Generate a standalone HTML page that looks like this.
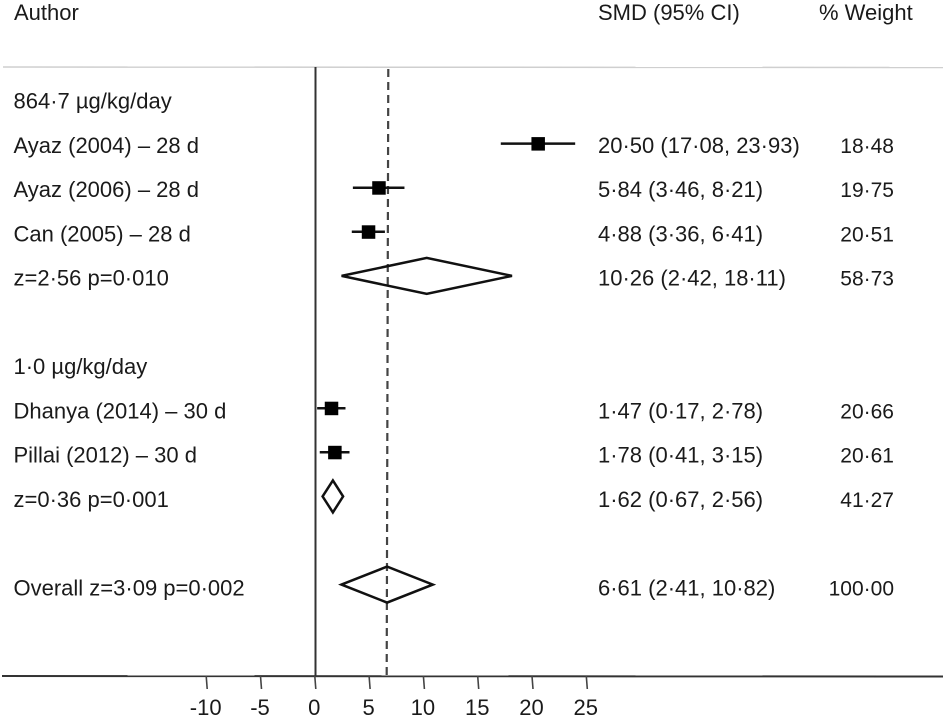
<!DOCTYPE html>
<html>
<head>
<meta charset="utf-8">
<style>
html,body{margin:0;padding:0;background:#fff;width:943px;height:722px;overflow:hidden}
svg{display:block}
text{font-family:"Liberation Sans",sans-serif;font-size:22px;fill:#1a1a1a}
text.weight{font-size:21px}
</style>
</head>
<body>
<svg id="chart" width="943" height="722" viewBox="0 0 943 722" xmlns="http://www.w3.org/2000/svg">
  <text x="14" y="20">Author</text>
  <text x="598" y="20">SMD (95% CI)</text>
  <text x="819" y="20">% Weight</text>
  <line x1="3" y1="67" x2="943" y2="67.5" stroke="#cfcfcf" stroke-width="1.5"/>
  <line x1="315.5" y1="67" x2="315.5" y2="676" stroke="#333" stroke-width="2"/>
  <line x1="2" y1="676" x2="943" y2="676.5" stroke="#333" stroke-width="2"/>
  <g id="marks"></g>
  <g id="labels"></g>
  <g id="axis"></g>
</svg>
<script>
var rowLabels = ["864·7 µg/kg/day","Ayaz (2004) – 28 d","Ayaz (2006) – 28 d","Can (2005) – 28 d","z=2·56 p=0·010","","1·0 µg/kg/day","Dhanya (2014) – 30 d","Pillai (2012) – 30 d","z=0·36 p=0·001","","Overall z=3·09 p=0·002"];
var rowKinds = ["group","study","study","study","pooled","blank","group","study","study","pooled","blank","pooled"];
var esValues = [null,20.50,5.84,4.88,10.26,null,null,1.47,1.78,1.62,null,6.61];
var loValues = [null,17.08,3.46,3.36,2.42,null,null,0.17,0.41,0.67,null,2.41];
var hiValues = [null,23.93,8.21,6.41,18.11,null,null,2.78,3.15,2.56,null,10.82];
var ciLabels = ["","20·50 (17·08, 23·93)","5·84 (3·46, 8·21)","4·88 (3·36, 6·41)","10·26 (2·42, 18·11)","","","1·47 (0·17, 2·78)","1·78 (0·41, 3·15)","1·62 (0·67, 2·56)","","6·61 (2·41, 10·82)"];
var weightLabels = ["","18·48","19·75","20·51","58·73","","","20·66","20·61","41·27","","100·00"];
var overallEffect = 6.61;
var tickValues = [-10,-5,0,5,10,15,20,25];
var tickLabels = ["-10","-5","0","5","10","15","20","25"];

var NS = "http://www.w3.org/2000/svg";
function xScale(v){ return 315.3 + v * 10.86; }
function rowText(i){ return 108.5 + i * 44.27; }
function rowMark(i){ return 99.5 + i * 44.1; }
function make(tag, parent, attrs){
  var el = document.createElementNS(NS, tag);
  for (var k in attrs) el.setAttribute(k, attrs[k]);
  parent.appendChild(el);
  return el;
}
var marks = document.getElementById("marks");
var labels = document.getElementById("labels");
var axis = document.getElementById("axis");

var dash = make("line", marks, {x1: xScale(overallEffect) + 1.2, y1: 69, x2: xScale(overallEffect) - 0.4, y2: 676, stroke: "#444", "stroke-width": 2.2, "stroke-dasharray": "8 5"});



rowLabels.forEach(function(label, i){
  if (rowKinds[i] === "blank") return;
  var t = make("text", labels, {x: 13.5, y: rowText(i)});
  t.textContent = label;
  
  
  if (ciLabels[i]) {
    var c = make("text", labels, {x: 598, y: rowText(i)});
    c.textContent = ciLabels[i];
    
    
    var w = make("text", labels, {x: 894, y: rowText(i), "text-anchor": "end", "class": "weight"});
    w.textContent = weightLabels[i];
    
    
  }
  var y = rowMark(i);
  if (rowKinds[i] === "study") {
    var ci = make("line", marks, {x1: xScale(loValues[i]), x2: xScale(hiValues[i]), y1: y, y2: y, stroke: "#111", "stroke-width": 2.5});
    
    
    var b = make("rect", marks, {x: xScale(esValues[i]) - 6.5, y: y - 6.5, width: 13.5, height: 13.5, fill: "#000"});
    
    
  } else if (rowKinds[i] === "pooled") {
    var h = i === 9 ? 16 : 18;
    var pts = [xScale(loValues[i]) + "," + y, xScale(esValues[i]) + "," + (y - h), xScale(hiValues[i]) + "," + y, xScale(esValues[i]) + "," + (y + h)].join(" ");
    var d = make("polygon", marks, {points: pts, fill: "#fff", "fill-opacity": 0, stroke: "#111", "stroke-width": 2.5});
    
    
  }
});

tickValues.forEach(function(v, i){
  var x = xScale(v);
  var tk = make("line", axis, {x1: x - 0.5, y1: 676, x2: x + 0.5, y2: 689, stroke: "#444", "stroke-width": 1.6});
  
  
  var tl = make("text", axis, {x: x - 1, y: 715, "text-anchor": "middle"});
  tl.textContent = tickLabels[i];
  
  
});
</script>
</body>
</html>
